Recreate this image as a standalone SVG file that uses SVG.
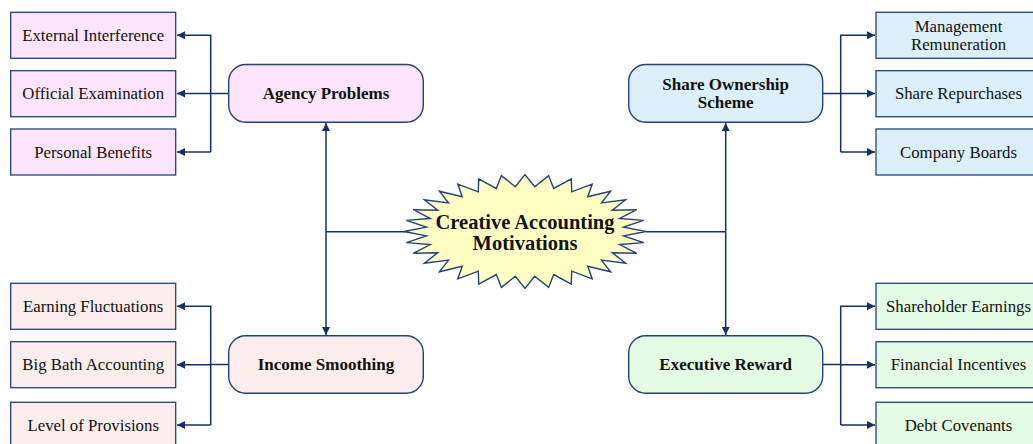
<svg xmlns="http://www.w3.org/2000/svg" width="1033" height="444" viewBox="0 0 1033 444">
<defs>
<marker id="ah" viewBox="0 0 10 10" refX="10" refY="5" markerWidth="8" markerHeight="8" markerUnits="userSpaceOnUse" orient="auto">
<path d="M0,0 L10,5 L0,10 Z" fill="#13306a"/>
</marker>
<style>
.leaf{stroke:#23427a;stroke-width:1.3}
.hub{stroke:#23427a;stroke-width:1.4}
.pk{fill:#fde6fd}
.rs{fill:#fdeeee}
.bl{fill:#dcf0fc}
.gr{fill:#e3fce3}
.t{font-family:"Liberation Serif","Times New Roman",serif;font-size:16.8px;fill:#111;text-anchor:middle}
.b{font-family:"Liberation Serif","Times New Roman",serif;font-size:17px;font-weight:bold;fill:#111;text-anchor:middle}
.c{font-family:"Liberation Serif","Times New Roman",serif;font-size:20.5px;font-weight:bold;fill:#111;text-anchor:middle}
.ln{fill:none;stroke:#13306a;stroke-width:1.5}
</style>
</defs>
<rect width="1033" height="444" fill="#ffffff"/>

<g id="connectors">
<path class="ln" d="M228.7,93.5 H210.7"/>
<path class="ln" d="M210.7,152 V35.3 H177" marker-end="url(#ah)"/>
<path class="ln" d="M210.7,93.5 H177" marker-end="url(#ah)"/>
<path class="ln" d="M210.7,152 H177" marker-end="url(#ah)"/>

<path class="ln" d="M822.7,93.5 H840.7"/>
<path class="ln" d="M840.7,152 V35.3 H875" marker-end="url(#ah)"/>
<path class="ln" d="M840.7,93.5 H875" marker-end="url(#ah)"/>
<path class="ln" d="M840.7,152 H875" marker-end="url(#ah)"/>

<path class="ln" d="M228.7,364.5 H210.7"/>
<path class="ln" d="M210.7,425 V306.3 H177" marker-end="url(#ah)"/>
<path class="ln" d="M210.7,364.7 H177" marker-end="url(#ah)"/>
<path class="ln" d="M210.7,425 H177" marker-end="url(#ah)"/>

<path class="ln" d="M822.7,364.5 H840.7"/>
<path class="ln" d="M840.7,425 V306.3 H875" marker-end="url(#ah)"/>
<path class="ln" d="M840.7,364.7 H875" marker-end="url(#ah)"/>
<path class="ln" d="M840.7,425 H875" marker-end="url(#ah)"/>

<path class="ln" d="M405,231.7 H326"/>
<path class="ln" d="M326,231.7 V123" marker-end="url(#ah)"/>
<path class="ln" d="M326,231.7 V335" marker-end="url(#ah)"/>
<path class="ln" d="M646,231.7 H725.7"/>
<path class="ln" d="M725.7,231.7 V123" marker-end="url(#ah)"/>
<path class="ln" d="M725.7,231.7 V335" marker-end="url(#ah)"/>
</g>

<g id="center">
<polygon class="hub" fill="#ffffc4" points="646,231.5 623.5,235.9 643.7,242.6 619.7,244.6 636.8,253.3 612.3,252.7 625.6,263.2 601.5,260.1 610.6,271.8 587.8,266.3 592.2,278.9 571.7,271.2 571.3,284.2 553.7,274.6 548.6,287.4 534.7,276.3 525,288.5 515.3,276.3 501.4,287.4 496.3,274.6 478.7,284.2 478.3,271.2 457.8,278.9 462.2,266.3 439.4,271.8 448.5,260.1 424.4,263.2 437.7,252.7 413.2,253.3 430.3,244.6 406.3,242.6 426.5,235.9 404,231.5 426.5,227.1 406.3,220.4 430.3,218.4 413.2,209.7 437.7,210.3 424.4,199.8 448.5,202.9 439.4,191.2 462.2,196.7 457.8,184.1 478.3,191.8 478.7,178.8 496.3,188.4 501.4,175.6 515.3,186.7 525,174.5 534.7,186.7 548.6,175.6 553.7,188.4 571.3,178.8 571.7,191.8 592.2,184.1 587.8,196.7 610.6,191.2 601.5,202.9 625.6,199.8 612.3,210.3 636.8,209.7 619.7,218.4 643.7,220.4 623.5,227.1"/>
<text class="c" x="525" y="228.5">Creative Accounting</text>
<text class="c" x="525" y="249.5">Motivations</text>
</g>

<g id="agency-problems">
<rect class="hub pk" x="228.7" y="64.5" width="194.6" height="57.8" rx="17"/>
<text class="b" x="326" y="99">Agency Problems</text>
</g>
<g id="external-interference"><rect class="leaf pk" x="10.7" y="12.3" width="165" height="46"/><text class="t" x="93.2" y="41">External Interference</text></g>
<g id="official-examination"><rect class="leaf pk" x="10.7" y="70.7" width="165" height="46"/><text class="t" x="93.2" y="99">Official Examination</text></g>
<g id="personal-benefits"><rect class="leaf pk" x="10.7" y="129" width="165" height="46"/><text class="t" x="93.2" y="157.5">Personal Benefits</text></g>

<g id="share-ownership-scheme">
<rect class="hub bl" x="628.7" y="64.5" width="194" height="57.8" rx="17"/>
<text class="b" x="725.7" y="90">Share Ownership</text>
<text class="b" x="725.7" y="107.5">Scheme</text>
</g>
<g id="management-remuneration"><rect class="leaf bl" x="876" y="12.3" width="165" height="46"/><text class="t" x="958.5" y="32.2">Management</text><text class="t" x="958.5" y="49.8">Remuneration</text></g>
<g id="share-repurchases"><rect class="leaf bl" x="876" y="70.7" width="165" height="46"/><text class="t" x="958.5" y="99">Share Repurchases</text></g>
<g id="company-boards"><rect class="leaf bl" x="876" y="129" width="165" height="46"/><text class="t" x="958.5" y="157.5">Company Boards</text></g>

<g id="income-smoothing">
<rect class="hub rs" x="228.7" y="335.7" width="194.6" height="57.6" rx="17"/>
<text class="b" x="326" y="370">Income Smoothing</text>
</g>
<g id="earning-fluctuations"><rect class="leaf rs" x="10.7" y="283.3" width="165" height="46"/><text class="t" x="93.2" y="312">Earning Fluctuations</text></g>
<g id="big-bath-accounting"><rect class="leaf rs" x="10.7" y="341.7" width="165" height="46"/><text class="t" x="93.2" y="370">Big Bath Accounting</text></g>
<g id="level-of-provisions"><rect class="leaf rs" x="10.7" y="402.3" width="165" height="46"/><text class="t" x="93.2" y="430.5">Level of Provisions</text></g>

<g id="executive-reward">
<rect class="hub gr" x="628.7" y="335.7" width="194" height="57.6" rx="17"/>
<text class="b" x="725.7" y="370">Executive Reward</text>
</g>
<g id="shareholder-earnings"><rect class="leaf gr" x="876" y="283.3" width="165" height="46"/><text class="t" x="958.5" y="312">Shareholder Earnings</text></g>
<g id="financial-incentives"><rect class="leaf gr" x="876" y="341.7" width="165" height="46"/><text class="t" x="958.5" y="370">Financial Incentives</text></g>
<g id="debt-covenants"><rect class="leaf gr" x="876" y="402.3" width="165" height="46"/><text class="t" x="958.5" y="430.5">Debt Covenants</text></g>
</svg>
